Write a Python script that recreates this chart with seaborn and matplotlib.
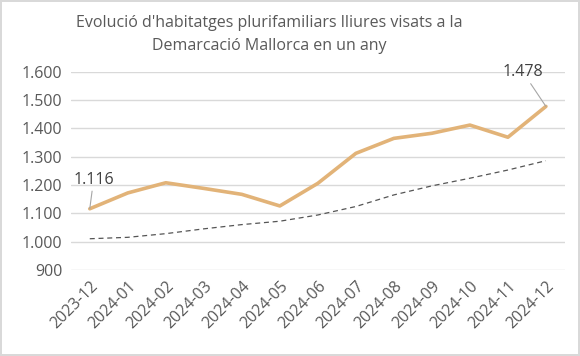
import matplotlib
matplotlib.use("Agg")
import matplotlib.pyplot as plt
import seaborn as sns
import pandas as pd
from matplotlib.ticker import FuncFormatter

months = ["2023-12", "2024-01", "2024-02", "2024-03", "2024-04", "2024-05", "2024-06",
          "2024-07", "2024-08", "2024-09", "2024-10", "2024-11", "2024-12"]
visats = [1116, 1172, 1208, 1188, 1167, 1126, 1206, 1312, 1365, 1383, 1412, 1369, 1478]
tendencia = [1010, 1015, 1028, 1045, 1060, 1072, 1094, 1124, 1165, 1197, 1224, 1253, 1286]

df = pd.DataFrame({"mes": months, "visats": visats, "tendencia": tendencia})
df["x"] = range(len(df))

sns.set_style("white")
plt.rcParams["font.family"] = ["Open Sans", "DejaVu Sans"]
grey = "#595959"

fig = plt.figure(figsize=(5.8, 3.56), dpi=100)
fig.patch.set_edgecolor("#d9d9d9")
fig.patch.set_linewidth(1.5)
ax = fig.add_axes([0.122, 0.242, 0.852, 0.556])

sns.lineplot(data=df, x="x", y="tendencia", ax=ax, color="#555555", lw=0.9,
             linestyle=(0, (4, 3)))
sns.lineplot(data=df, x="x", y="visats", ax=ax, color="#E2B378", lw=2.6)

ax.set_xlim(-0.5, len(df) - 0.5)
ax.set_ylim(900, 1600)
ax.set_yticks(range(900, 1601, 100))
ax.yaxis.set_major_formatter(FuncFormatter(lambda v, p: f"{int(v):,}".replace(",", ".")))
ax.set_xticks(df["x"])
ax.set_xticklabels(df["mes"], rotation=45, ha="right", rotation_mode="anchor")
ax.tick_params(axis="both", length=0, colors=grey, labelsize=11.5, pad=6)
ax.yaxis.grid(True, color="#d9d9d9", lw=1)
for s in ax.spines.values():
    s.set_visible(False)
ax.set_xlabel("")
ax.set_ylabel("")

def fmt(v):
    return f"{v:,}".replace(",", ".")

ax.annotate(fmt(visats[0]), xy=(0, visats[0]), xytext=(0.1, 1190),
            ha="center", va="bottom", fontsize=11.5, color="#404040",
            arrowprops=dict(arrowstyle="-", color="#a6a6a6", lw=0.8, shrinkA=0, shrinkB=0))
ax.annotate(fmt(visats[-1]), xy=(12, visats[-1]), xytext=(11.4, 1570),
            ha="center", va="bottom", fontsize=11.5, color="#404040",
            arrowprops=dict(arrowstyle="-", color="#a6a6a6", lw=0.8, shrinkA=0, shrinkB=0),
            annotation_clip=False)

fig.suptitle("Evolució d'habitatges plurifamiliars lliures visats a la\nDemarcació Mallorca en un any",
             x=0.464, y=0.958, fontsize=11.5, color=grey, linespacing=1.6)

fig.savefig("out.png", dpi=100)
